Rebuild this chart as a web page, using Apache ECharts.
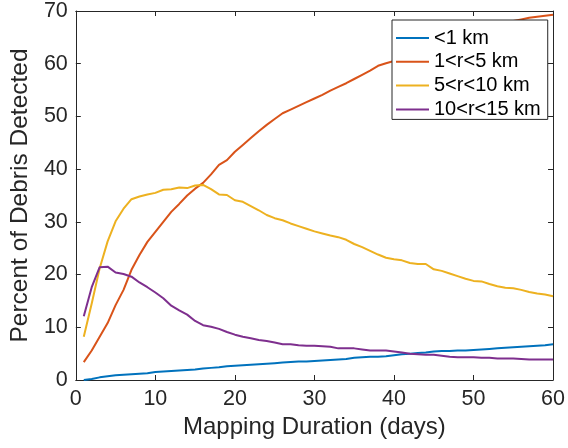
<!DOCTYPE html>
<html>
<head>
<meta charset="utf-8">
<script src="https://cdn.jsdelivr.net/npm/echarts@6/dist/echarts.min.js"></script>
<style>html,body{margin:0;padding:0;background:#fff;}#c{width:568px;height:448px;}</style>
</head>
<body>
<div id="c"></div>
<script>
const days = [1,2,3,4,5,6,7,8,9,10,11,12,13,14,15,16,17,18,19,20,21,22,23,24,25,26,27,28,29,30,31,32,33,34,35,36,37,38,39,40,41,42,43,44,45,46,47,48,49,50,51,52,53,54,55,56,57,58,59,60];
const lt1 = [0,0.2,0.5,0.7,0.9,1.0,1.1,1.2,1.3,1.5,1.6,1.7,1.8,1.9,2.0,2.2,2.3,2.4,2.6,2.7,2.8,2.9,3.0,3.1,3.2,3.3,3.4,3.5,3.5,3.6,3.7,3.8,3.9,4.0,4.2,4.3,4.4,4.4,4.5,4.7,4.9,5.0,5.1,5.2,5.4,5.5,5.5,5.6,5.6,5.7,5.8,5.9,6.0,6.1,6.2,6.3,6.4,6.5,6.6,6.8];
const r1to5 = [3.4,5.6,8.2,10.8,14.2,17.1,20.9,23.7,26.2,28.1,30.0,31.9,33.4,35.0,36.3,37.4,39.0,40.8,41.7,43.3,44.6,45.9,47.2,48.4,49.5,50.6,51.3,52.0,52.7,53.4,54.1,54.9,55.6,56.3,57.1,57.9,58.7,59.6,60.1,60.5,61.2,61.9,62.5,63.1,63.7,64.3,64.8,65.3,65.8,66.2,66.6,67.0,67.4,67.8,68.1,68.4,68.7,68.9,69.1,69.3];
const r5to10 = [8.2,14.5,21.2,26.3,30.1,32.5,34.3,34.8,35.2,35.5,36.1,36.2,36.5,36.4,36.9,37.0,36.2,35.2,35.1,34.1,33.8,33.0,32.2,31.3,30.7,30.3,29.7,29.2,28.7,28.2,27.8,27.4,27.1,26.6,25.8,25.2,24.5,23.8,23.2,22.9,22.7,22.2,22.0,22.0,21.0,20.7,20.2,19.7,19.2,18.8,18.7,18.2,17.8,17.5,17.4,17.1,16.7,16.4,16.2,15.9];
const r10to15 = [12.1,17.6,21.4,21.5,20.4,20.1,19.6,18.5,17.6,16.6,15.5,14.1,13.2,12.4,11.2,10.4,10.1,9.7,9.1,8.6,8.2,7.9,7.6,7.4,7.1,6.8,6.8,6.6,6.5,6.5,6.4,6.3,6.0,6.0,6.0,5.8,5.6,5.6,5.6,5.4,5.2,5.0,4.9,4.8,4.8,4.6,4.4,4.3,4.3,4.3,4.2,4.2,4.1,4.1,4.1,4.0,3.9,3.9,3.9,3.9];
const seriesNames = ['<1 km','1<r<5 km','5<r<10 km','10<r<15 km'];
const seriesData = [lt1, r1to5, r5to10, r10to15];
const colors = ['#0072BD','#D95319','#EDB120','#7E2F8E'];
const xTicks = [0,10,20,30,40,50,60];
const yTicks = [0,10,20,30,40,50,60,70];

const axisColor = '#262626';
const font = 'Liberation Sans, Arial, sans-serif';

function pairs(arr){ return days.map((d,i)=>[d,arr[i]]); }

const chart = echarts.init(document.getElementById('c'), null, {renderer:'canvas'});
const baseAxis = {
  axisLine:{show:true, onZero:false, lineStyle:{color:axisColor, width:1}},
  axisTick:{show:true, inside:true, length:5, lineStyle:{color:axisColor, width:1}},
  splitLine:{show:false}
};
chart.setOption({
  animation:false,
  backgroundColor:'#fff',
  color: colors,
  grid:{left:72, right:12, top:11, bottom:68},
  legend:{
    orient:'vertical', left:392, top:20, z:20,
    data: seriesNames,
    icon:'rect', itemWidth:33, itemHeight:2, itemGap:3.8, itemTextGap:4,
    padding:[8,7,0,4],
    borderColor:axisColor, borderWidth:1, backgroundColor:'#fff',
    textStyle:{fontFamily:font, fontSize:20, color:'#000'}
  },
  xAxis:[
    Object.assign({}, baseAxis, {type:'value', min:xTicks[0], max:xTicks[xTicks.length-1], interval:10, position:'bottom',
      name:'Mapping Duration (days)', nameLocation:'middle', nameGap:35,
      nameTextStyle:{fontFamily:font, fontSize:24, color:axisColor},
      axisLabel:{fontFamily:font, fontSize:21.5, color:axisColor, margin:8}}),
    Object.assign({}, baseAxis, {type:'value', min:xTicks[0], max:xTicks[xTicks.length-1], interval:10, position:'top', axisLabel:{show:false}})
  ],
  yAxis:[
    Object.assign({}, baseAxis, {type:'value', min:yTicks[0], max:yTicks[yTicks.length-1], interval:10, position:'left',
      name:'Percent of Debris Detected', nameLocation:'middle', nameGap:35,
      nameTextStyle:{fontFamily:font, fontSize:24.5, color:axisColor},
      axisLabel:{fontFamily:font, fontSize:21.5, color:axisColor, margin:8}}),
    Object.assign({}, baseAxis, {type:'value', min:yTicks[0], max:yTicks[yTicks.length-1], interval:10, position:'right', axisLabel:{show:false}})
  ],
  series: seriesNames.map((n,i)=>({
    name:n, type:'line', xAxisIndex:0, yAxisIndex:0,
    data: pairs(seriesData[i]), showSymbol:false, symbol:'none',
    lineStyle:{width:2, color:colors[i]}, itemStyle:{color:colors[i]}, z: 2
  }))
});
</script>
</body>
</html>
